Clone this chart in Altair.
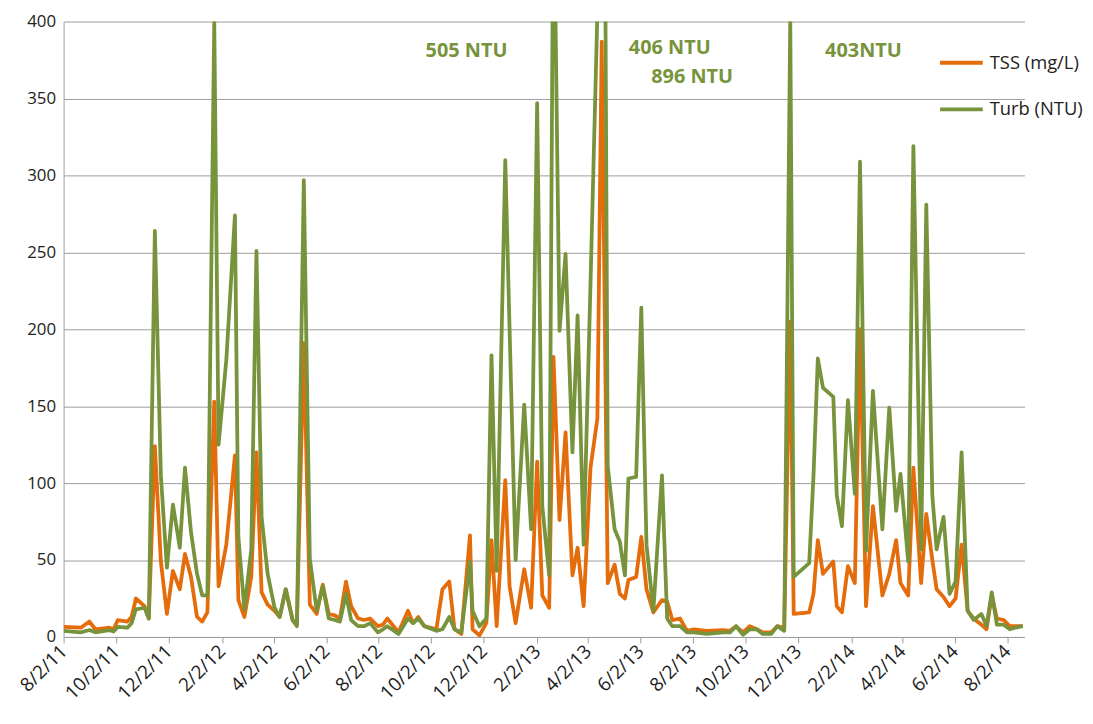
import altair as alt
import pandas as pd

# ---- data (days since first sample, 2011-08-02) ----
start_date = "2011-08-02"
sample_day = [
    0, 20, 30, 37, 53, 58, 63, 74, 79, 84,
    94, 99, 106, 113, 120, 127, 135, 141, 148, 155,
    161, 167, 175, 180, 189, 199, 203, 210, 218, 224,
    230, 237, 245, 251, 258, 266, 271, 279, 286, 294,
    301, 308, 315, 321, 328, 334, 342, 349, 356, 365,
    371, 376, 389, 400, 406, 412, 419, 433, 440, 448,
    454, 462, 472, 475, 483, 491, 497, 503, 513, 518,
    525, 535, 543, 550, 556, 564, 569, 576, 583, 591,
    597, 604, 612, 620, 625, 632, 640, 646, 652, 656,
    665, 671, 677, 685, 695, 701, 707, 716, 724, 732,
    747, 766, 774, 781, 789, 797, 805, 812, 822, 829,
    837, 844, 848, 866, 871, 876, 882, 894, 898, 904,
    911, 919, 925, 932, 940, 951, 959, 967, 972, 981,
    987, 996, 1002, 1009, 1014, 1022, 1029, 1036, 1043, 1050,
    1057, 1066, 1072, 1078, 1084, 1092, 1099, 1105, 1114,
]
tss = [
    6.6, 6, 10, 5, 6, 5, 11, 10, 13, 25,
    20, 12, 124, 49, 15, 43, 31, 54, 39, 13,
    10, 16, 153, 33, 60, 118, 24, 13, 39, 120,
    29, 21, 17, 13, 31, 11, 8, 191, 21, 15,
    34, 15, 14, 12, 36, 20, 12, 11, 12, 7,
    8, 12, 3, 17, 9, 13, 7, 5, 31, 36,
    5, 2, 66, 5, 1, 9, 63, 7, 102, 33,
    9, 44, 19, 114, 27, 19, 182, 76, 133, 40,
    58, 20, 110, 142, 387, 35, 47, 28, 25, 37,
    39, 65, 31, 16, 24, 23, 11, 12, 4, 5,
    4, 4.5, 4, 7, 3, 7, 5, 3, 3, 7,
    6, 205, 15, 16, 28, 63, 41, 49, 20, 16,
    46, 35, 200, 20, 85, 27, 41, 63, 35, 27,
    110, 35, 80, 50, 31, 26, 20, 25, 60, 17,
    12, 8, 5, 27, 12, 11, 7, 7, 7,
]
turb = [
    4, 3, 4.5, 3, 4.5, 3.5, 6.6, 6, 9, 18,
    19, 12, 264, 105, 45, 86, 58, 110, 68, 41,
    27, 27, 400, 125, 180, 274, 65, 18, 57, 251,
    78, 41, 19, 13, 31, 11, 7, 297, 51, 17,
    33, 12, 11, 10, 28, 11, 7, 7, 9, 3,
    5, 7, 2, 12, 9, 12, 7, 4, 5, 13,
    5, 3, 49, 17, 7, 12, 183, 43, 310, 200,
    50, 151, 70, 347, 85, 40, 505, 199, 249, 120,
    209, 60, 230, 406, 896, 111, 70, 62, 40, 103,
    104, 214, 60, 17, 105, 12, 7, 7, 3, 3,
    2, 3, 3, 7, 1.5, 5, 5, 2, 2, 7,
    4, 403, 39, 48, 105, 181, 162, 156, 92, 72,
    154, 93, 309, 56, 160, 70, 149, 82, 106, 49,
    319, 57, 281, 92, 57, 78, 28, 36, 120, 17,
    11, 15, 7, 29, 8, 8, 5, 6, 7,
]

series_names = ["TSS (mg/L)", "Turb (NTU)"]
series_colors = ["#E46C0A", "#77933C"]

tick_dates = [
    (2011, 8), (2011, 10), (2011, 12), (2012, 2), (2012, 4), (2012, 6),
    (2012, 8), (2012, 10), (2012, 12), (2013, 2), (2013, 4), (2013, 6),
    (2013, 8), (2013, 10), (2013, 12), (2014, 2), (2014, 4), (2014, 6),
    (2014, 8),
]
y_ticks = [0, 50, 100, 150, 200, 250, 300, 350, 400]

# annotations for the off-scale turbidity peaks
note_text = ["505 NTU", "406 NTU", "896 NTU", "403NTU"]
note_day = [468, 704, 730, 929]
note_value = [381, 383, 364, 381]

# ---- build tables ----
base = pd.Timestamp(start_date)
def to_iso(d):
    return (base + pd.Timedelta(days=d)).strftime("%Y-%m-%dT00:00:00")

dates = [to_iso(d) for d in sample_day]
long_rows = []
for name, vals in zip(series_names, [tss, turb]):
    for dt, v in zip(dates, vals):
        long_rows.append({"date": dt, "value": v, "series": name})
df = pd.DataFrame(long_rows)

notes = pd.DataFrame({
    "date": [to_iso(d) for d in note_day],
    "value": note_value,
    "label": note_text,
})

FONT = "Open Sans"
GRID = "#9C9C9C"

x_scale = alt.Scale(domain=[alt.DateTime(year=2011, month=8, date=2),
                            alt.DateTime(year=2014, month=8, date=22)])
y_scale = alt.Scale(domain=[0, 400], nice=False)

x_axis = alt.Axis(
    values=[alt.DateTime(year=y, month=m, date=2) for y, m in tick_dates],
    format="%-m/%-d/%y", labelAngle=-45, labelAlign="right",
    labelBaseline="middle", labelPadding=5, labelFontSize=19,
    labelFont=FONT, labelColor="#222222", labelOverlap=False,
    labelFlush=False, grid=False, tickSize=6, tickColor=GRID,
    domainColor=GRID, title=None,
)
y_axis = alt.Axis(
    values=y_ticks, grid=True, gridColor=GRID, gridWidth=1, ticks=False,
    domainColor=GRID, labelFontSize=17, labelFont=FONT,
    labelColor="#222222", labelPadding=8, title=None,
)

lines = alt.Chart(df).mark_line(clip=True, strokeWidth=3.8, strokeJoin="round").encode(
    x=alt.X("date:T", scale=x_scale, axis=x_axis),
    y=alt.Y("value:Q", scale=y_scale, axis=y_axis),
    color=alt.Color(
        "series:N",
        scale=alt.Scale(domain=series_names, range=series_colors),
        legend=alt.Legend(
            title=None, orient="none", legendX=881, legendY=18,
            symbolType="stroke", symbolSize=1849, symbolStrokeWidth=4,
            labelFontSize=18.5, labelFont=FONT, labelColor="#222222",
            labelOffset=5, rowPadding=14,
        ),
    ),
    order=alt.Order("date:T"),
)

labels = alt.Chart(notes).mark_text(
    font=FONT, fontWeight="bold", fontSize=20, color="#77933C",
    align="center", baseline="middle",
).encode(
    x=alt.X("date:T", scale=x_scale),
    y=alt.Y("value:Q", scale=y_scale),
    text="label:N",
)

chart = alt.layer(lines, labels).properties(
    width=968, height=620,
    autosize=alt.AutoSizeParams(type="none"),
    padding={"left": 56, "top": 11, "right": 61, "bottom": 80},
).configure_view(stroke=None)

chart.save("out.html", embed_options={"renderer": "svg", "actions": False})
